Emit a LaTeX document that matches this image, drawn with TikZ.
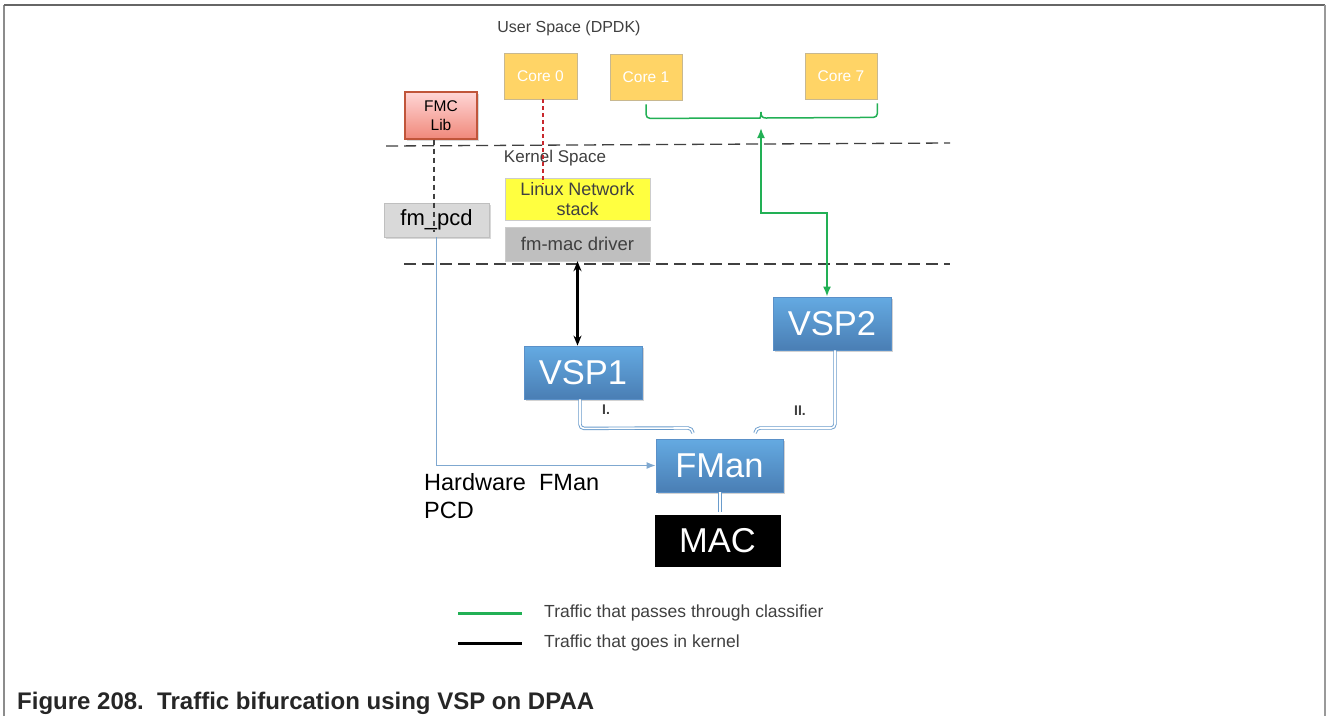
\documentclass[tikz,border=0pt]{standalone}
\usepackage{fontspec}
\setmainfont{Liberation Sans}
\usetikzlibrary{arrows.meta,shadows,calc}
\definecolor{coref}{HTML}{FFD466}
\definecolor{coreb}{HTML}{C8B890}
\definecolor{txtg}{HTML}{404040}
\definecolor{bluet}{HTML}{64AAE2}
\definecolor{blueb}{HTML}{4A7EB4}
\definecolor{bluel}{HTML}{5A90C8}
\definecolor{pcdblue}{HTML}{7FA8D0}
\definecolor{dblue}{HTML}{6A9CCC}
\definecolor{grn}{HTML}{22B055}
\definecolor{fmct}{HTML}{FFD6D6}
\definecolor{fmcb}{HTML}{F0887A}
\definecolor{fmcd}{HTML}{C0553A}
\definecolor{linuxf}{HTML}{FFFF40}
\definecolor{macf}{HTML}{BFBFBF}
\definecolor{pcdf}{HTML}{D9D9D9}
\definecolor{redd}{HTML}{C8282D}
\tikzset{
  fs/.style={font=\fontsize{#1}{\fpeval{1.2*#1}}\selectfont},
  corebox/.style={draw=coreb, line width=0.8pt, fill=coref, text=white, inner sep=0pt, fs=15.5},
  bluebox/.style={draw=bluel, line width=0.8pt, top color=bluet, bottom color=blueb, text=white, inner sep=0pt, fs=34.5,
     drop shadow={shadow xshift=2pt, shadow yshift=-2pt, opacity=0.35}},
  grayfill/.style={inner sep=0pt, text=txtg},
  sep/.style={dash pattern=on 12pt off 6pt, line width=1.3pt, draw=txtg},
  dbl/.style={draw=dblue, line width=0.9pt, double=white, double distance=1.6pt, rounded corners=4pt},
  grline/.style={draw=grn, line width=1.8pt},
  lbl/.style={text=txtg, fs=17.5},
}
\begin{document}
\begin{tikzpicture}[x=1pt,y=-1pt]
\useasboundingbox (0,0) rectangle (1328,716);
\fill[white] (0,0) rectangle (1328,716);
% frame
\draw[draw=black!45, line width=1.8pt] (4,716) -- (4,5);
\draw[draw=black!60, line width=1.8pt] (4,5) -- (1325,5);
\draw[draw=black!40, line width=1.8pt] (1325,5) -- (1325,716);

% titles
\node[text=txtg, fs=16, anchor=center] (us) at (569,28) {User Space (DPDK)};
\node[text=txtg, fs=17, anchor=center] (ks) at (555,158) {Kernel Space};

% separators
\draw[sep] (386,146) -- (950,143);
\draw[sep] (404,264) -- (950,264);

% cores
\node[corebox, minimum width=73pt, minimum height=46pt] (core0) at (540.5,76) {Core 0};
\node[corebox, minimum width=72pt, minimum height=46pt] (core1) at (646,77) {Core 1};
\node[corebox, minimum width=72pt, minimum height=46pt] (core7) at (841,76) {Core 7};

% FMC Lib
\node[draw=fmcd, line width=1.2pt, top color=fmct, bottom color=fmcb, inner sep=0pt,
  minimum width=72pt, minimum height=47pt, align=center, fs=15.5,
  drop shadow={shadow xshift=1.5pt, shadow yshift=-1.5pt, opacity=0.3}] (fmc) at (441,115.5) {FMC\\Lib};

% kernel boxes
\node[grayfill, draw=black!20, fill=linuxf, minimum width=145pt, minimum height=42pt, align=center,
  font=\fontsize{18}{20}\selectfont] (linux) at (577.5,199) {Linux Network\\stack};
\node[grayfill, draw=black!20, fill=macf, minimum width=145pt, minimum height=34pt, fs=18.5] (fmmac) at (577.5,244) {fm-mac driver};
\node[grayfill, draw=black!25, fill=pcdf, minimum width=105pt, minimum height=34pt, fs=22, text=black,
  drop shadow={shadow xshift=2pt, shadow yshift=-2pt, opacity=0.3}] (fmpcd) at (436.5,220) {fm\_pcd};

% blue boxes
\node[bluebox, minimum width=118pt, minimum height=53pt] (vsp1) at (583,372.5) {VSP1};
\node[bluebox, minimum width=118pt, minimum height=53pt] (vsp2) at (832,323.5) {VSP2};
\node[bluebox, minimum width=127pt, minimum height=53pt] (fman) at (719.5,465.5) {FMan};
\node[fill=black, draw=white, line width=3pt, text=white, inner sep=0pt, fs=34.5,
  minimum width=129pt, minimum height=55pt,
  drop shadow={shadow xshift=1.5pt, shadow yshift=-1.5pt, opacity=0.35}] (mac) at (717.5,540.5) {MAC};

% red dashed Core0 -> Linux
\coordinate (r0) at ([xshift=2.5pt]core0.south);
\draw[draw=redd, dash pattern=on 4pt off 3pt, line width=1.1pt] (r0) -- ($(r0 |- linux.north)+(0,6)$);
% black dashed FMC -> fm_pcd
\coordinate (b0) at ([xshift=-7pt]fmc.south);
\draw[draw=txtg, dash pattern=on 5pt off 4pt, line width=1.2pt] (b0) -- ($(b0 |- fmpcd.north)+(0,29)$);
% fm_pcd -> FMan
\draw[draw=pcdblue, line width=1.3pt, -{Latex[length=9pt,width=7pt]}] (fmpcd.south) |- (fman.west);

% kernel traffic
\draw[draw=black, line width=2.2pt, {Stealth[length=10pt,width=8pt]}-{Stealth[length=10pt,width=8pt]}] (fmmac.south) -- (fmmac.south |- vsp1.north);

% green brace
\coordinate (bc) at (761,118);
\draw[grline, line width=1.5pt, rounded corners=4pt] ([yshift=-4pt]core1.south) -- ($(core1.south)+(0,18)$)
  -- ($(bc)+(-5,0)$) [sharp corners] .. controls ($(bc)+(-1,0)$) and ($(bc)+(0,-2)$) .. ($(bc)+(0,-6)$)
  .. controls ($(bc)+(0,-2)$) and ($(bc)+(1,0)$) .. ($(bc)+(5,0)$) [rounded corners=4pt]
  -- ($(core7.south east)+(0,18)$) -- ([yshift=-4pt]core7.south east);
\coordinate (gtop) at (761,128);
\coordinate (gmid) at (761,213);
\draw[grline, {Latex[length=10pt,width=8pt]}-{Latex[length=10pt,width=8pt]}] (gtop) -- (gmid) -| ([xshift=-5pt]vsp2.north);

% double blue links
\draw[dbl] ([xshift=-3pt]vsp1.south) -- ++(0,29) -- (684,428) .. controls (690,428) and (693,430) .. (693,433);
\draw[dbl] ([xshift=3pt]vsp2.south) -- (835,428) -- (764,428) .. controls (758,428) and (755,430) .. (755,433);
\draw[dbl, rounded corners=0pt] ([xshift=0.5pt]fman.south) -- ([xshift=2.5pt]mac.north);

\node[text=txtg, font=\bfseries\fontsize{14}{16}\selectfont] (l1) at (606,410) {I.};
\node[text=txtg, font=\bfseries\fontsize{14}{16}\selectfont] (l2) at (800,411) {II.};

% hardware label
\node[anchor=north west, align=left, font=\fontsize{23.5}{28}\selectfont, inner sep=0pt, text=black] (hw) at (424,473) {Hardware\ \ FMan\\PCD};

% legend
\coordinate (g1) at (458,613); \coordinate (g2) at (522,613);
\coordinate (k1) at (458,643); \coordinate (k2) at (522,643);
\draw[draw=grn, line width=3pt] (g1) -- (g2);
\draw[draw=black, line width=3pt] (k1) -- (k2);
\node[lbl, anchor=west, inner sep=0pt] (lg1) at (544,613) {Traffic that passes through classifier};
\node[lbl, anchor=west, inner sep=0pt] (lg2) at (544,643) {Traffic that goes in kernel};

% caption
\node[anchor=west, inner sep=0pt, text=black!85, font=\bfseries\fontsize{24}{28}\selectfont] (cap) at (17,703) {Figure 208.\ \ Traffic bifurcation using VSP on DPAA};
\end{tikzpicture}
\end{document}
